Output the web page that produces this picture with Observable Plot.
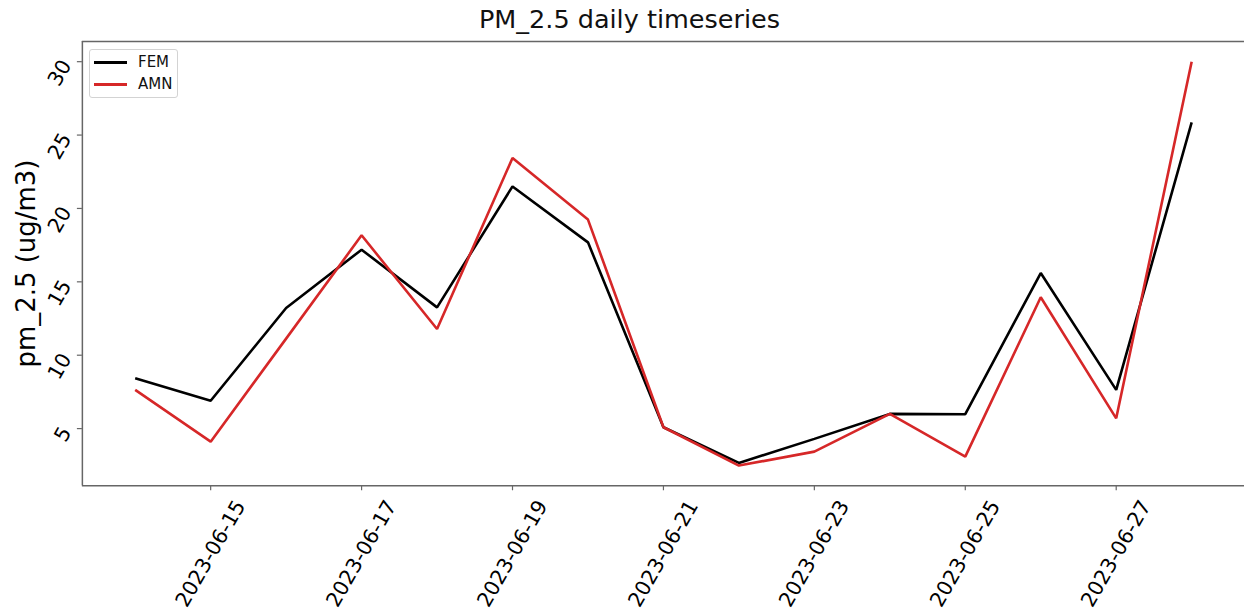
<!DOCTYPE html>
<html>
<head>
<meta charset="utf-8">
<script src="https://cdn.jsdelivr.net/npm/d3@7"></script>
<script src="https://cdn.jsdelivr.net/npm/@observablehq/plot@0.6"></script>
<style>
  html, body { margin: 0; padding: 0; background: #fff; overflow: hidden; }
  #wrap { position: relative; width: 1244px; height: 615px; overflow: hidden; font-family: "DejaVu Sans", sans-serif; }
  #title { height: 36px; width: 1259px; text-align: center; font-size: 25.5px; line-height: 38px; color: #111; white-space: nowrap; }
  #legend { position: absolute; left: 89px; top: 49px; width: 87px; height: 47px; border: 1px solid #d3d3d3; border-radius: 3px; background: rgba(255,255,255,0.85); }
  .item { position: absolute; left: 0; width: 87px; height: 20px; }
  .sw { position: absolute; left: 4px; width: 33px; height: 2.5px; top: 9px; }
  .lab { position: absolute; left: 48px; top: 0; font-size: 15px; line-height: 20px; color: #111; }
  svg { display: block; }
</style>
</head>
<body>
<div id="wrap">
  <div id="title">PM_2.5 daily timeseries</div>
  <div id="chart"></div>
  <div id="legend"></div>
</div>
<script>
// ---- data ----
const dates = ["2023-06-14","2023-06-15","2023-06-16","2023-06-17","2023-06-18","2023-06-19","2023-06-20",
               "2023-06-21","2023-06-22","2023-06-23","2023-06-24","2023-06-25","2023-06-26","2023-06-27","2023-06-28"];
const fem = [8.43, 6.90, 13.22, 17.19, 13.26, 21.50, 17.69, 5.09, 2.66, 4.30, 6.00, 5.98, 15.60, 7.64, 25.86];
const amn = [7.64, 4.11, 11.13, 18.17, 11.79, 23.44, 19.24, 5.09, 2.48, 3.43, 6.00, 3.09, 13.95, 5.70, 30.00];
const seriesNames = ["FEM", "AMN"];
const seriesColors = ["#000000", "#d62728"];
const xTickLabels = ["2023-06-15","2023-06-17","2023-06-19","2023-06-21","2023-06-23","2023-06-25","2023-06-27"];
const yTickValues = [5, 10, 15, 20, 25, 30];
const yLabel = "pm_2.5 (ug/m3)";

// ---- build table ----
const seriesValues = [fem, amn];
const rows = [];
seriesNames.forEach((name, i) => {
  dates.forEach((d, j) => rows.push({series: name, date: new Date(d), value: seriesValues[i][j]}));
});

const t0 = new Date(dates[0]).getTime(), t1 = new Date(dates[dates.length - 1]).getTime();
const xDomain = [new Date(t0 - 0.05 * (t1 - t0)), new Date(t1 + 0.05 * (t1 - t0))];
const allV = fem.concat(amn);
const vmin = d3.min(allV), vmax = d3.max(allV);
const yDomain = [vmin - 0.05 * (vmax - vmin), vmax + 0.05 * (vmax - vmin)];
const xTickDates = xTickLabels.map(s => new Date(s));
const spine = "#666";

const chart = Plot.plot({
  width: 1246,
  height: 579,
  marginLeft: 82,
  marginRight: 0,
  marginTop: 5,
  marginBottom: 129,
  style: { fontFamily: "DejaVu Sans, sans-serif", color: "#000", background: "transparent", overflow: "visible" },
  x: { type: "utc", domain: xDomain },
  y: { domain: yDomain },
  color: { domain: seriesNames, range: seriesColors },
  marks: [
    Plot.axisX({ ticks: xTickDates, tickSize: 5, tickFormat: () => "", label: null, stroke: spine, strokeWidth: 1.2 }),
    Plot.axisY({ ticks: yTickValues, tickSize: 5, tickFormat: () => "", label: null, stroke: spine, strokeWidth: 1.2 }),
    Plot.ruleY([yDomain[0]], { stroke: spine, strokeWidth: 1.5 }),
    Plot.ruleY([yDomain[1]], { stroke: spine, strokeWidth: 1.5 }),
    Plot.ruleX([xDomain[0]], { stroke: spine, strokeWidth: 1.5 }),
    Plot.line(rows, { x: "date", y: "value", z: "series", stroke: "series", strokeWidth: 2.6, strokeLinejoin: "miter", strokeLinecap: "butt" }),
    Plot.text(yTickValues, { y: d => d, text: d => String(d), frameAnchor: "left", dx: -16, textAnchor: "end", lineAnchor: "middle", rotate: -60, fontSize: 20.5, fill: "#000" }),
    Plot.text(xTickDates, { x: d => d, text: (d, i) => xTickLabels[i], frameAnchor: "bottom", dy: 68, textAnchor: "middle", lineAnchor: "middle", rotate: -60, fontSize: 20.5, fill: "#000" }),
    Plot.text([yLabel], { text: d => d, frameAnchor: "left", dx: -56, rotate: -90, textAnchor: "middle", lineAnchor: "middle", fontSize: 26, fill: "#000" })
  ]
});
document.getElementById("chart").appendChild(chart);

// ---- legend ----
const legend = document.getElementById("legend");
seriesNames.forEach((name, i) => {
  const it = document.createElement("div");
  it.className = "item";
  it.style.top = (2 + i * 22) + "px";
  const sw = document.createElement("div");
  sw.className = "sw";
  sw.style.background = seriesColors[i];
  const lab = document.createElement("div");
  lab.className = "lab";
  lab.textContent = name;
  it.appendChild(sw); it.appendChild(lab);
  legend.appendChild(it);
});
</script>
</body>
</html>
